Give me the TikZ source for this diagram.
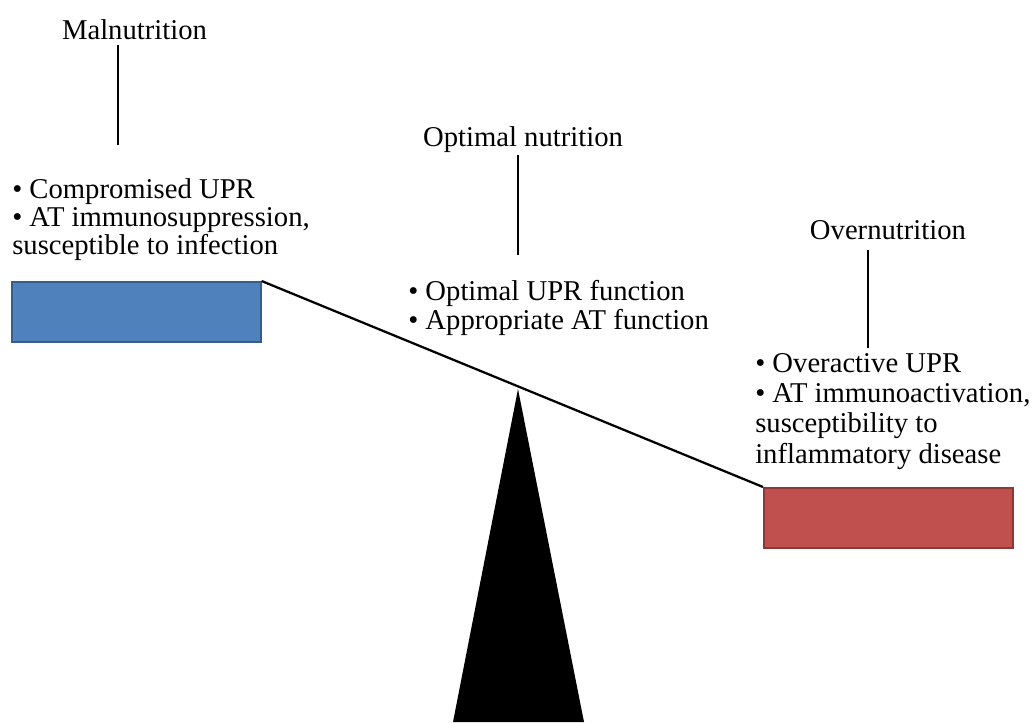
\documentclass[tikz,border=0pt]{standalone}
\usepackage{fontspec}
\setmainfont{Liberation Serif}
\definecolor{bluefill}{HTML}{4F81BD}
\definecolor{blueline}{HTML}{385D8A}
\definecolor{redfill}{HTML}{C0504D}
\definecolor{redline}{HTML}{8C3836}
\begin{document}
\begin{tikzpicture}[x=0.75pt,y=-0.75pt,
  lbl/.style={inner sep=0pt,font=\fontsize{21.5pt}{21pt}\selectfont},
  blk/.style={lbl,align=left,anchor=north west},
  stem/.style={line width=1.6pt},
  pan/.style={line width=1.2pt,minimum width=249*0.75pt,minimum height=60*0.75pt,anchor=north west,inner sep=0pt}]
\useasboundingbox (0,0) rectangle (1035,722);
% pans
\node[pan,draw=blueline,fill=bluefill] (bluepan) at (11,281) {};
\node[pan,draw=redline,fill=redfill] (redpan) at (763,487) {};
% beam
\draw[line width=1.7pt] (bluepan.north east) -- (redpan.north west);
% fulcrum
\fill (518,389) -- (584,722) -- (453,722) -- cycle;
% titles
\node[lbl,anchor=base] (mal) at (134.5,39) {Malnutrition};
\node[lbl,anchor=base] (opt) at (523,146) {Optimal nutrition};
\node[lbl,anchor=base] (over) at (888,239) {Overnutrition};
% stems
\coordinate (m1) at (118,45); \coordinate (m2) at (118,145);
\coordinate (o1) at (518,155); \coordinate (o2) at (518,255);
\coordinate (v1) at (868,250); \coordinate (v2) at (868,348);
\draw[stem] (m1) -- (m2);
\draw[stem] (o1) -- (o2);
\draw[stem] (v1) -- (v2);
% texts
\node[blk,font=\fontsize{21.5pt}{21pt}\selectfont] (maltxt) at (12,178) {• Compromised UPR\\• AT immunosuppression,\\susceptible to infection};
\node[blk,font=\fontsize{21.5pt}{21.8pt}\selectfont] (opttxt) at (408,280) {• Optimal UPR function\\• Appropriate AT function};
\node[blk,font=\fontsize{21.5pt}{22.7pt}\selectfont] (overtxt) at (755,353) {• Overactive UPR\\• AT immunoactivation,\\susceptibility to\\inflammatory disease};
\end{tikzpicture}
\end{document}
